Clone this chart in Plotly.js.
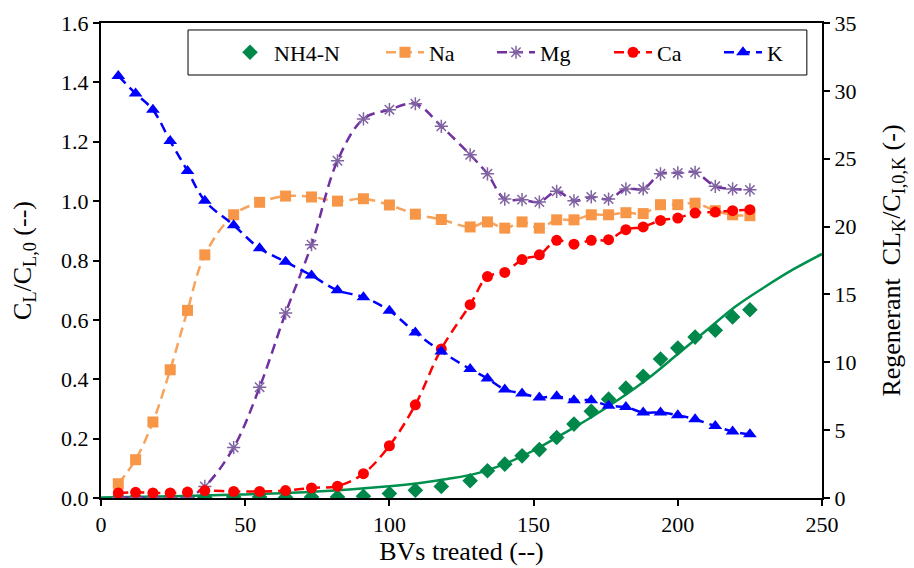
<!DOCTYPE html>
<html>
<head>
<meta charset="utf-8">
<script src="https://cdn.plot.ly/plotly-3.0.1.min.js"></script>
<style>
html,body{margin:0;padding:0;background:#fff;}
#chart{width:914px;height:568px;}
</style>
</head>
<body>
<div id="chart"></div>
<script>
// BVs treated (shared sampling points)
const bv = [6, 12, 18, 24, 30, 36, 46, 55, 64, 73, 82, 91, 100, 109, 118, 128, 134, 140, 146, 152, 158, 164, 170, 176, 182, 188, 194, 200, 206, 213, 219, 225];

const nh4 = [0.000, 0.000, 0.000, 0.000, 0.000, 0.002, 0.003, 0.003, 0.002, 0.003, 0.003, 0.006, 0.015, 0.026, 0.039, 0.058, 0.092, 0.114, 0.142, 0.163, 0.204, 0.249, 0.292, 0.333, 0.370, 0.410, 0.468, 0.505, 0.542, 0.565, 0.610, 0.634];

const na = [0.048, 0.129, 0.256, 0.432, 0.632, 0.819, 0.954, 0.996, 1.017, 1.014, 1.000, 1.008, 0.987, 0.956, 0.938, 0.913, 0.930, 0.909, 0.930, 0.909, 0.937, 0.937, 0.954, 0.954, 0.961, 0.958, 0.988, 0.988, 0.993, 0.968, 0.954, 0.951];

const mg = [0.002, 0.002, 0.002, 0.002, 0.002, 0.039, 0.170, 0.373, 0.623, 0.853, 1.136, 1.277, 1.308, 1.328, 1.252, 1.156, 1.092, 1.007, 1.005, 0.997, 1.033, 1.001, 1.014, 1.007, 1.041, 1.041, 1.092, 1.095, 1.097, 1.050, 1.041, 1.038];

const ca = [0.017, 0.019, 0.017, 0.017, 0.020, 0.025, 0.022, 0.022, 0.025, 0.034, 0.040, 0.082, 0.176, 0.314, 0.502, 0.651, 0.746, 0.760, 0.803, 0.819, 0.868, 0.855, 0.868, 0.870, 0.904, 0.913, 0.935, 0.943, 0.960, 0.963, 0.968, 0.971];

// K on the right (regenerant) axis
const k = [31.1, 29.8, 28.6, 26.3, 24.1, 21.9, 20.1, 18.4, 17.4, 16.4, 15.3, 14.8, 13.8, 12.2, 10.8, 9.5, 8.8, 8.0, 7.7, 7.4, 7.5, 7.2, 7.2, 6.8, 6.7, 6.3, 6.3, 6.1, 5.8, 5.3, 4.9, 4.7];

// NH4-N model curve
const fitX = [0, 25, 50, 75, 100, 110, 120, 130, 140, 150, 160, 170, 180, 190, 200, 210, 220, 230, 240, 250];
const fitY = [0.002, 0.006, 0.012, 0.022, 0.040, 0.050, 0.064, 0.082, 0.115, 0.160, 0.215, 0.272, 0.335, 0.405, 0.485, 0.565, 0.645, 0.710, 0.770, 0.822];

const xTicks = [0, 50, 100, 150, 200, 250];

const FONT = 'Liberation Serif';
const dashPat = "10px,6px";

const traces = [
  {x: fitX, y: fitY, mode: 'lines', line: {color: '#00904E', width: 2.5, shape: 'spline'}, showlegend: false, hoverinfo: 'skip'},
  {x: bv, y: nh4, name: 'NH4-N', legend: 'legend', mode: 'markers', marker: {symbol: 'diamond', size: 12, color: '#00884A'}},
  {x: bv, y: na, name: 'Na', legend: 'legend2', mode: 'lines+markers', line: {color: '#F7A35C', width: 2.5, dash: dashPat, shape: 'spline'}, marker: {symbol: 'square', size: 11, color: '#F79646'}},
  {x: bv, y: mg, name: 'Mg', legend: 'legend3', mode: 'lines+markers', line: {color: '#7030A0', width: 2.5, dash: dashPat, shape: 'spline'}, marker: {symbol: 'asterisk-open', size: 11, line: {color: '#8064A2', width: 1.5}, color: '#8064A2'}},
  {x: bv, y: ca, name: 'Ca', legend: 'legend4', mode: 'lines+markers', line: {color: '#FF0000', width: 2.5, dash: dashPat, shape: 'spline'}, marker: {symbol: 'circle', size: 11, color: '#FF0000'}},
  {x: bv, y: k, name: 'K', legend: 'legend5', yaxis: 'y2', mode: 'lines+markers', line: {color: '#0000FF', width: 2.5, dash: dashPat, shape: 'spline'}, marker: {symbol: 'triangle-up', size: 12, color: '#0000FF'}}
];

function leg(x) {
  return {x: x, y: 0.938, xanchor: 'left', yanchor: 'middle', orientation: 'h',
          bgcolor: 'rgba(0,0,0,0)', borderwidth: 0, itemwidth: 38,
          font: {family: FONT, size: 22, color: '#000'}};
}

const layout = {
  width: 914, height: 568,
  margin: {l: 101, r: 92, t: 23, b: 70, pad: 0},
  paper_bgcolor: '#fff', plot_bgcolor: '#fff',
  showlegend: true,
  legend: leg(0.1734),
  legend2: leg(0.3883),
  legend3: leg(0.5423),
  legend4: leg(0.7046),
  legend5: leg(0.8571),
  shapes: [{type: 'rect', xref: 'paper', yref: 'paper', x0: 0.1207, x1: 0.979, y0: 0.8905, y1: 0.9853,
            line: {color: '#000', width: 1}, fillcolor: '#fff', layer: 'above'}],
  xaxis: {
    range: [0, 250], tickvals: xTicks, ticks: 'outside', ticklen: 6, tickwidth: 2, tickcolor: '#000',
    showline: true, linecolor: '#000', linewidth: 2, mirror: true, showgrid: false, zeroline: false,
    tickfont: {family: FONT, size: 22, color: '#000'},
    title: {text: 'BVs treated (--)', font: {family: FONT, size: 26, color: '#000'}, standoff: 5}
  },
  yaxis: {
    range: [0, 1.6], dtick: 0.2, tickformat: '.1f', ticks: 'outside', ticklen: 6, tickwidth: 2, tickcolor: '#000',
    showline: true, linecolor: '#000', linewidth: 2, showgrid: false, zeroline: false,
    tickfont: {family: FONT, size: 22, color: '#000'},
    title: {text: 'C<sub>L</sub>/C<sub>L,0</sub> (--)', font: {family: FONT, size: 26, color: '#000'}, standoff: 22}
  },
  yaxis2: {
    range: [0, 35], dtick: 5, overlaying: 'y', side: 'right', ticks: 'outside', ticklen: 6, tickwidth: 2, tickcolor: '#000',
    showline: true, linecolor: '#000', linewidth: 2, showgrid: false, zeroline: false,
    tickfont: {family: FONT, size: 22, color: '#000'},
    title: {text: 'Regenerant  CL<sub>K</sub>/C<sub>I,0,K</sub> (-)', font: {family: FONT, size: 26, color: '#000'}, standoff: 26}
  }
};

Plotly.newPlot('chart', traces, layout, {displayModeBar: false, staticPlot: true});
</script>
</body>
</html>
